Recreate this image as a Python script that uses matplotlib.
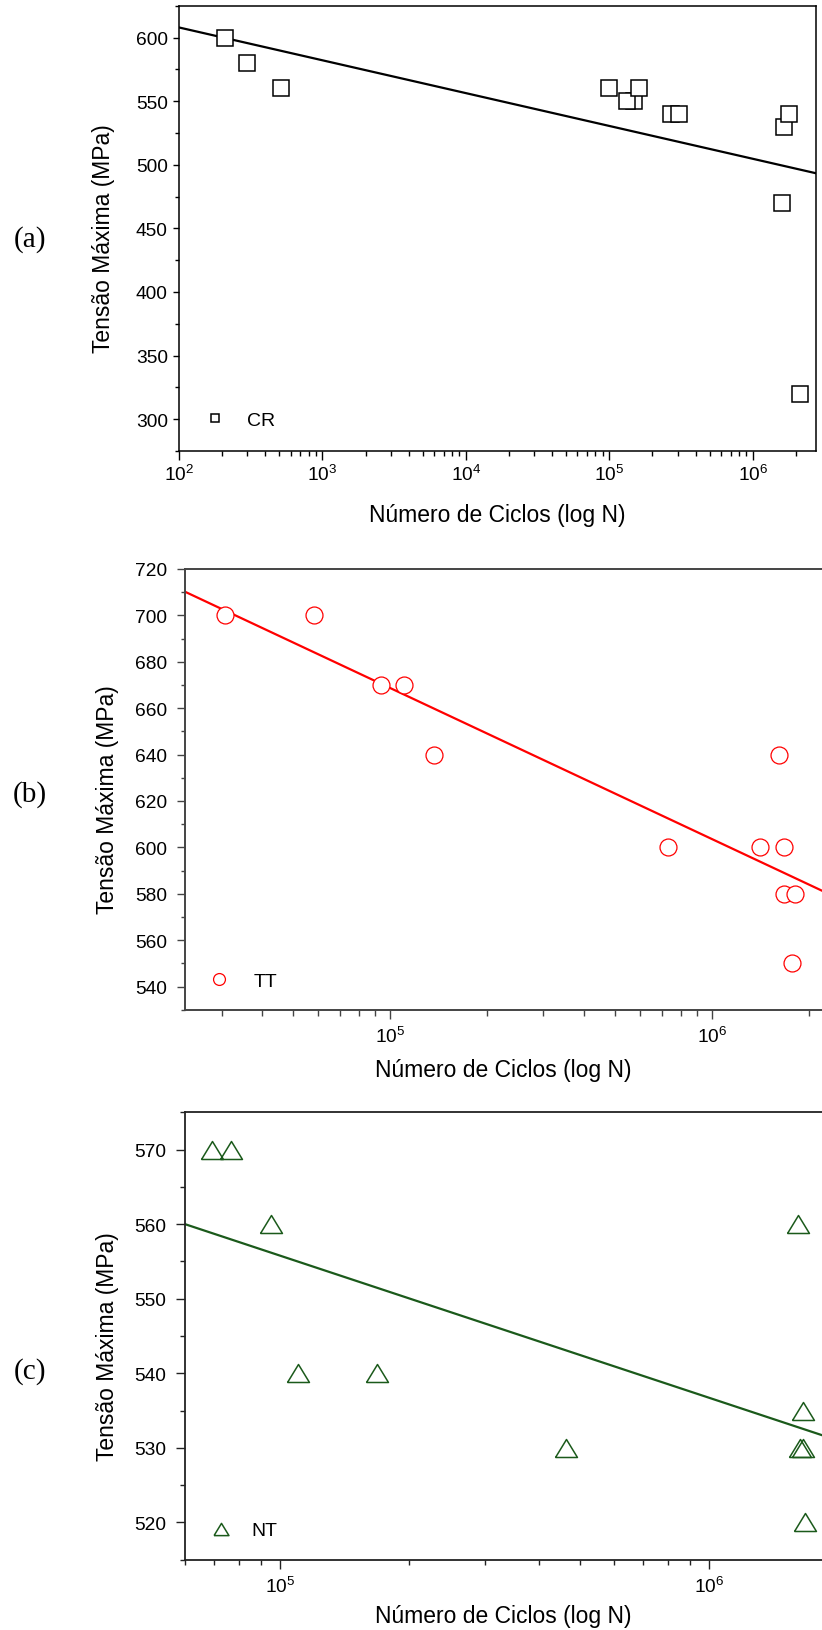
import matplotlib
matplotlib.use('Agg')
import matplotlib.pyplot as plt
from matplotlib.ticker import MultipleLocator, LogLocator, NullFormatter
import numpy as np

plt.rcParams['font.family'] = ['Liberation Sans', 'DejaVu Sans']
plt.rcParams['mathtext.default'] = 'regular'

# (a) CR
cr_n = [209, 300, 515, 9.9e4, 1.49e5, 1.32e5, 1.61e5, 2.7e5, 3.04e5,
        1.64e6, 1.8e6, 1.61e6, 2.14e6]
cr_s = [600, 580, 560, 560, 550, 550, 560, 540, 540, 530, 540, 470, 320]
cr_fit_n = [1e2, 2.76e6]
cr_fit_s = [607.9, 493.3]

# (b) TT
tt_n = [3.07e4, 5.8e4, 9.4e4, 1.11e5, 1.37e5, 7.33e5, 1.41e6, 1.62e6,
        1.68e6, 1.68e6, 1.82e6, 1.77e6]
tt_s = [700, 700, 670, 670, 640, 600, 600, 640, 600, 580, 580, 550]
tt_fit_n = [2.31e4, 2.2e6]
tt_fit_s = [710.2, 581.3]

# (c) NT
nt_n = [6.95e4, 7.66e4, 9.5e4, 1.1e5, 1.68e5, 4.63e5, 1.61e6, 1.65e6,
        1.63e6, 1.65e6, 1.67e6]
nt_s = [570, 570, 560, 540, 540, 530, 560, 535, 530, 530, 520]
nt_fit_n = [6.0e4, 1.83e6]
nt_fit_s = [560.0, 531.7]

W, H = 822.0, 1631.0
green = '#1b5a1b'
tri = [(-1, -0.82), (1, -0.82), (0, 0.82), (-1, -0.82)]


def rect(l, r, t, b):
    return [l / W, 1 - b / H, (r - l) / W, (b - t) / H]


def style(ax, xlim, ylim, ymaj, ymin, spc, slw, ylen, xlen, ypad, xpad):
    ax.set_xscale('log')
    ax.set_xlim(*xlim)
    ax.set_ylim(*ylim)
    ax.xaxis.set_major_locator(LogLocator(base=10, numticks=20))
    ax.xaxis.set_minor_locator(LogLocator(base=10, subs=np.arange(2, 10), numticks=20))
    ax.xaxis.set_minor_formatter(NullFormatter())
    ax.yaxis.set_major_locator(MultipleLocator(ymaj))
    ax.yaxis.set_minor_locator(MultipleLocator(ymin))
    for sp in ax.spines.values():
        sp.set_color(spc)
        sp.set_linewidth(slw)
    ax.tick_params(axis='y', which='major', direction='out', length=ylen[0], width=1,
                   pad=ypad, labelsize=13.8, color=spc)
    ax.tick_params(axis='y', which='minor', direction='out', length=ylen[1], width=1, color=spc)
    ax.tick_params(axis='x', which='major', direction='out', length=xlen[0], width=1,
                   pad=xpad, labelsize=13.8, color=spc)
    ax.tick_params(axis='x', which='minor', direction='out', length=xlen[1], width=1, color=spc)


fig = plt.figure(figsize=(8.22, 16.31), dpi=100)

# ---- (a)
ax1 = fig.add_axes(rect(179, 816, 6.7, 452))
ax1.plot(cr_fit_n, cr_fit_s, color='black', lw=1.6)
ax1.plot(cr_n, cr_s, ls='none', marker='s', ms=11.5, mfc='white', mec='black',
         mew=1.1, label='CR')
style(ax1, (1e2, 2.76e6), (275, 625), 50, 25, 'black', 1.1,
      (4.5, 2.9), (6.7, 3.6), 3.6, 2.7)
ax1.legend(loc='center left', bbox_to_anchor=(0.042, 0.0696), frameon=False,
           fontsize=14, handlelength=1.0, handletextpad=1.1, borderpad=0,
           borderaxespad=0, markerscale=0.56)
ax1.set_ylabel('Tensão Máxima (MPa)', fontsize=16.5)
ax1.yaxis.set_label_coords(-0.1193, 0.4783)
ax1.yaxis.label.set_va('center')
ax1.set_xlabel('Número de Ciclos (log N)', fontsize=16.5)
ax1.xaxis.set_label_coords(0.5, -0.1415)
ax1.xaxis.label.set_va('center')

# ---- (b)
ax2 = fig.add_axes(rect(185, 822, 570, 1010.7))
ax2.plot(tt_fit_n, tt_fit_s, color='red', lw=1.6)
ax2.plot(tt_n, tt_s, ls='none', marker='o', ms=12.2, mfc='white', mec='red',
         mew=0.9, label='TT')
style(ax2, (2.31e4, 2.2e6), (530, 720), 20, 10, '#444444', 1.4,
      (6.0, 3.1), (6.7, 4.3), 6.8, 4.8)
ax2.spines['right'].set_visible(False)
ax2.legend(loc='center left', bbox_to_anchor=(0.038, 0.065), frameon=False,
           fontsize=14, handlelength=1.0, handletextpad=1.28, borderpad=0,
           borderaxespad=0, markerscale=0.7)
ax2.set_ylabel('Tensão Máxima (MPa)', fontsize=16.5)
ax2.yaxis.set_label_coords(-0.1209, 0.478)
ax2.yaxis.label.set_va('center')
ax2.set_xlabel('Número de Ciclos (log N)', fontsize=16.5)
ax2.xaxis.set_label_coords(0.5, -0.1368)
ax2.xaxis.label.set_va('center')

# ---- (c)
ax3 = fig.add_axes(rect(185, 822, 1113.3, 1560.7))
ax3.plot(nt_fit_n, nt_fit_s, color=green, lw=1.6)
ax3.plot(nt_n, nt_s, ls='none', marker=tri, ms=15.8, mfc='none', mec=green,
         mew=1.1, label='NT')
style(ax3, (6.0e4, 1.83e6), (515, 575), 10, 5, '#222222', 1.3,
      (6.5, 3.6), (6.3, 3.8), 6.8, 5.2)
ax3.spines['right'].set_visible(False)
ax3.legend(loc='center left', bbox_to_anchor=(0.042, 0.065), frameon=False,
           fontsize=14, handlelength=1.0, handletextpad=1.05, borderpad=0,
           borderaxespad=0, markerscale=0.68)
ax3.set_ylabel('Tensão Máxima (MPa)', fontsize=16.5)
ax3.yaxis.set_label_coords(-0.1209, 0.4777)
ax3.yaxis.label.set_va('center')
ax3.set_xlabel('Número de Ciclos (log N)', fontsize=16.5)
ax3.xaxis.set_label_coords(0.5, -0.1258)
ax3.xaxis.label.set_va('center')

# panel labels
for lab, yc in [('(a)', 240), ('(b)', 795), ('(c)', 1372)]:
    fig.text(30 / W, 1 - yc / H, lab, family='Liberation Serif', size=21,
             ha='center', va='center')

fig.savefig('out.png', dpi=100)
